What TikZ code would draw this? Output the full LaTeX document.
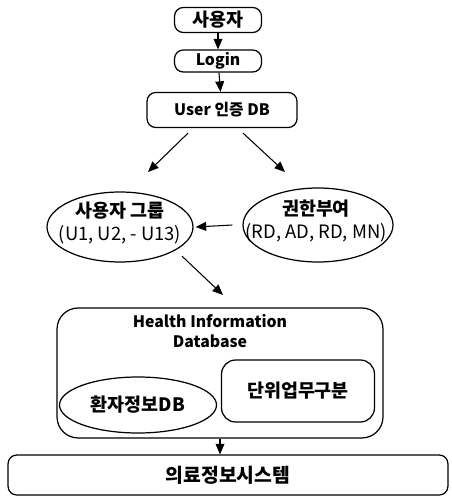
\documentclass[tikz,border=0pt]{standalone}
\usepackage{fontspec}
\setmainfont{Noto Sans CJK KR}
\usetikzlibrary{positioning, arrows.meta, shapes.geometric}

\begin{document}
\begin{tikzpicture}[
      x=0.02cm, y=-0.02cm,
      every node/.style={font=\fontsize{10.5}{12.5}\selectfont\bfseries, inner sep=0pt},
      box/.style={draw, line width=0.7pt, rounded corners=5pt, align=center},
      oval/.style={draw, line width=0.7pt, ellipse},
      ovaltext/.style={align=center, font=\fontsize{10.5}{13.5}\selectfont\bfseries},
      arr/.style={-{Triangle[length=6pt, width=5pt]}, line width=0.6pt},
    ]
    \useasboundingbox (0,0) rectangle (451,502);

    % Login flow
    \node[box, minimum width=1.74cm, minimum height=0.5cm] (user) at (218,20) {사용자};
    \node[box, minimum width=1.74cm, minimum height=0.44cm, font=\small\bfseries] (login) at (218,61) {Login};
    \node[box, minimum width=3cm, minimum height=0.7cm, font=\small\bfseries] (auth) at (222,110) {User 인증 DB};
    \draw[arr] (user) -- (login);
    \draw[arr] (login) -- (auth);

    % Groups and rights
    \node[oval, minimum width=2.92cm, minimum height=1.4cm] (group) at (120,227) {};
    \node[ovaltext] (grouptext) at (120,223) {사용자 그룹\\{\mdseries (U1, U2, - U13)}};
    \node[oval, minimum width=3cm, minimum height=1.48cm] (perm) at (318,225) {};
    \node[ovaltext] (permtext) at (316,221) {권한부여\\{\mdseries (RD, AD, RD, MN)}};
    \coordinate (gtip) at (148,172);
    \coordinate (ptip) at (285,172);
    \coordinate (hidbtip) at (223,295);
    \draw[arr] ([shift={(-0.68cm,-0.1cm)}]auth.south) -- (gtip);
    \draw[arr] ([shift={(0.42cm,-0.1cm)}]auth.south) -- (ptip);
    \draw[arr] ([xshift=-0.2cm]perm.west) -- ([xshift=0.04cm]group.east);
    \draw[arr] ([shift={(0.2cm,-0.08cm)}]group.south east) -- (hidbtip);

    % Database
    \node[box, rounded corners=12pt, minimum width=6.52cm, minimum height=2.6cm] (hidb) at (220,373) {};
    \node[align=center, font=\small\bfseries] (hidbtitle) at (210,331) {Health Information\\Database};
    \node[oval, minimum width=3.14cm, minimum height=1.12cm] (patient) at (138,405) {};
    \node (patienttext) at (patient) {환자정보DB};
    \node[box, rounded corners=8pt, minimum width=3.06cm, minimum height=1.24cm] (unit) at (298,391) {단위업무구분};

    % System
    \node[box, minimum width=8.8cm, minimum height=0.8cm, font=\fontsize{11}{13}\selectfont\bfseries] (emr) at (228,475) {의료정보시스템};
    \draw[arr] (hidb.south) -- (hidb.south |- emr.north);
  \end{tikzpicture}
\end{document}
